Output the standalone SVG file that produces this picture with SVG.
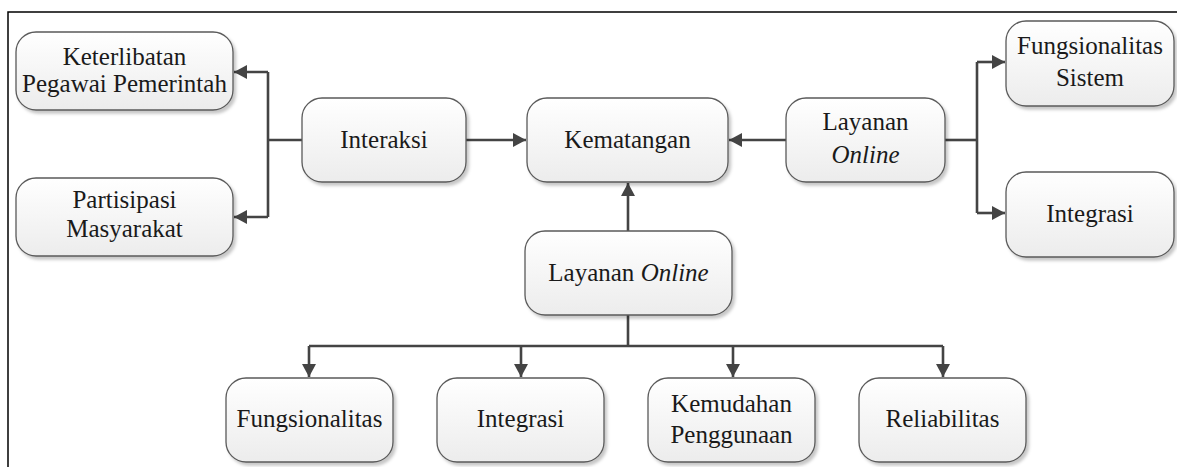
<svg xmlns="http://www.w3.org/2000/svg" width="1177" height="467" viewBox="0 0 1177 467">
<style>
.box{fill:url(#g);stroke:#5a5a5a;stroke-width:1.3;filter:url(#sh)}
.t{font-family:'Liberation Serif','DejaVu Serif',serif;font-size:25px;fill:#1a1a1a;text-anchor:middle}
.c{fill:none;stroke:#444;stroke-width:2.6}
.a{marker-end:url(#ar)}
</style>
<defs>
<linearGradient id="g" x1="0" y1="0" x2="0" y2="1">
<stop offset="0" stop-color="#ffffff"/>
<stop offset="1" stop-color="#ececec"/>
</linearGradient>
<filter id="sh" x="-10%" y="-10%" width="130%" height="140%">
<feDropShadow dx="2.5" dy="3" stdDeviation="1.8" flood-color="#000" flood-opacity="0.22"/>
</filter>
<marker id="ar" markerUnits="userSpaceOnUse" markerWidth="14" markerHeight="14" refX="13" refY="7" orient="auto">
<path d="M0,0 L13,7 L0,14 Z" fill="#444"/>
</marker>
</defs>
<rect width="1177" height="467" fill="#fff"/>
<path d="M8,467 V12 H1177" fill="none" stroke="#000" stroke-width="1.5"/>
<g id="connectors">
<path class="c" d="M302,140 H268"/>
<path class="c" d="M268,72 V217"/>
<path class="c a" d="M268,72 H234"/>
<path class="c a" d="M268,217 H234"/>
<path class="c a" d="M466,140 H526"/>
<path class="c a" d="M786,140 H729"/>
<path class="c" d="M945,140 H977"/>
<path class="c" d="M977,62 V213"/>
<path class="c a" d="M977,62 H1005"/>
<path class="c a" d="M977,213 H1005"/>
<path class="c a" d="M628,231 V183"/>
<path class="c" d="M628,315 V346"/>
<path class="c" d="M309,346 H943"/>
<path class="c a" d="M309,346 V377"/>
<path class="c a" d="M521,346 V377"/>
<path class="c a" d="M733,346 V377"/>
<path class="c a" d="M943,346 V377"/>
</g>
<g id="n-keterlibatan"><rect class="box" x="16" y="32" width="217" height="78" rx="20"/><text class="t" x="124.5" y="65">Keterlibatan</text><text class="t" x="124.5" y="92">Pegawai Pemerintah</text></g>
<g id="n-partisipasi"><rect class="box" x="16" y="178" width="217" height="78" rx="20"/><text class="t" x="124.5" y="208">Partisipasi</text><text class="t" x="124.5" y="237">Masyarakat</text></g>
<g id="n-interaksi"><rect class="box" x="302" y="98" width="164" height="84" rx="20"/><text class="t" x="384" y="148">Interaksi</text></g>
<g id="n-kematangan"><rect class="box" x="527" y="98" width="201" height="84" rx="20"/><text class="t" x="627.5" y="148">Kematangan</text></g>
<g id="n-layanan-kanan"><rect class="box" x="786" y="98" width="159" height="84" rx="20"/><text class="t" x="865.5" y="130">Layanan</text><text class="t" x="865.5" y="163" font-style="italic">Online</text></g>
<g id="n-fungsionalitas-sistem"><rect class="box" x="1006" y="21" width="168" height="85" rx="20"/><text class="t" x="1090" y="54">Fungsionalitas</text><text class="t" x="1090" y="86">Sistem</text></g>
<g id="n-integrasi-kanan"><rect class="box" x="1006" y="172" width="168" height="85" rx="20"/><text class="t" x="1090" y="222">Integrasi</text></g>
<g id="n-layanan-bawah"><rect class="box" x="525" y="231" width="207" height="84" rx="20"/><text class="t" x="628.5" y="281">Layanan <tspan font-style="italic">Online</tspan></text></g>
<g id="n-fungsionalitas"><rect class="box" x="226" y="378" width="167" height="84" rx="20"/><text class="t" x="309.5" y="427">Fungsionalitas</text></g>
<g id="n-integrasi"><rect class="box" x="437" y="378" width="167" height="84" rx="20"/><text class="t" x="520.5" y="427">Integrasi</text></g>
<g id="n-kemudahan"><rect class="box" x="648" y="378" width="167" height="84" rx="20"/><text class="t" x="731.5" y="412">Kemudahan</text><text class="t" x="731.5" y="443">Penggunaan</text></g>
<g id="n-reliabilitas"><rect class="box" x="859" y="378" width="167" height="84" rx="20"/><text class="t" x="942.5" y="427">Reliabilitas</text></g>
</svg>
